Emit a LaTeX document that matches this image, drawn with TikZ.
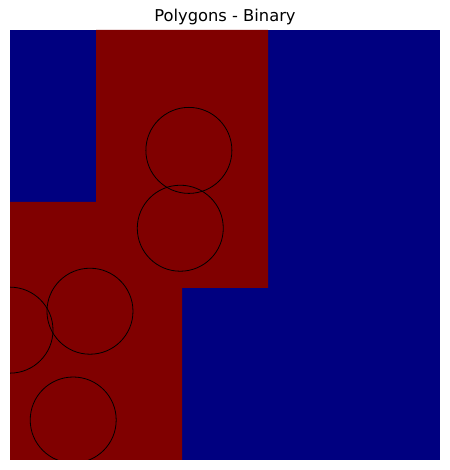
\documentclass[tikz,border=0pt]{standalone}
\usepackage{fontspec}
\setmainfont{DejaVu Sans}
\definecolor{mplblue}{RGB}{0,0,128}
\definecolor{mplred}{RGB}{128,0,0}
\begin{document}
\begin{tikzpicture}[x=1pt,y=1pt,
  ring/.style={draw=black,line width=0.8pt}]
\useasboundingbox (0,0) rectangle (449,470);
\node[anchor=base,font=\fontsize{16.3}{19}\selectfont,inner sep=0pt] (title) at (225,448) {Polygons - Binary};
\begin{scope}[shift={(10,10)},x=43pt,y=43pt]
  \fill[mplblue] (0,0) rectangle (10,10);
  \fill[mplred] (2,10) -- (6,10) -- (6,4) -- (4,4) -- (4,0) -- (0,0) -- (0,6) -- (2,6) -- cycle;
  \clip (0,0) rectangle (10,10);
  \draw[ring] (4.16,7.20) circle (1);
  \draw[ring] (3.96,5.39) circle (1);
  \draw[ring] (1.86,3.46) circle (1);
  \draw[ring] (0.0,3.02) circle (1);
  \draw[ring] (1.47,0.93) circle (1);
\end{scope}
\end{tikzpicture}
\end{document}
